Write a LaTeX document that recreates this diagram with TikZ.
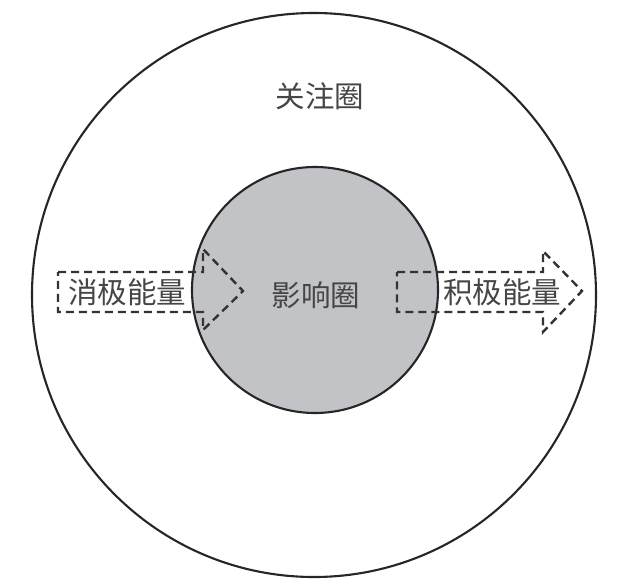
\documentclass[tikz,border=0pt]{standalone}
\usepackage{fontspec}
\newfontfamily\cjk{Noto Sans CJK SC}
\definecolor{innergray}{RGB}{194,195,199}
\definecolor{txtgray}{RGB}{70,70,70}
\begin{document}
\begin{tikzpicture}[x=1pt,y=-1pt,
  ring/.style={draw=black!85,line width=2.1pt},
  label/.style={font=\cjk\fontsize{29.5}{32}\selectfont,text=txtgray,inner sep=0pt},
  dasharrow/.style={draw=black!80,line width=2.4pt,dash pattern=on 8pt off 5pt,line join=miter}]
\useasboundingbox (0,0) rectangle (640,586);
\fill[white] (0,0) rectangle (640,586);
\node[ring,circle,minimum size=564pt,inner sep=0pt] (outer) at (314,295) {};
\node[ring,circle,fill=innergray,minimum size=246pt,inner sep=0pt] (inner) at (315,290) {};
\node[label] (focus) at (320,96) {关注圈};
\node[label] (infl) at (316,295) {影响圈};
\node[label] (neg) at (127,292) {消极能量};
\node[label] (pos) at (502,292) {积极能量};
\draw[dasharrow] (58,272) -- (203,272) -- (203,249) -- (243,291) -- (203,330) -- (203,312) -- (58,312) -- cycle;
\draw[dasharrow] (397,272) -- (543,272) -- (543,251) -- (582,291) -- (543,332) -- (543,312) -- (397,312) -- cycle;
\end{tikzpicture}
\end{document}
